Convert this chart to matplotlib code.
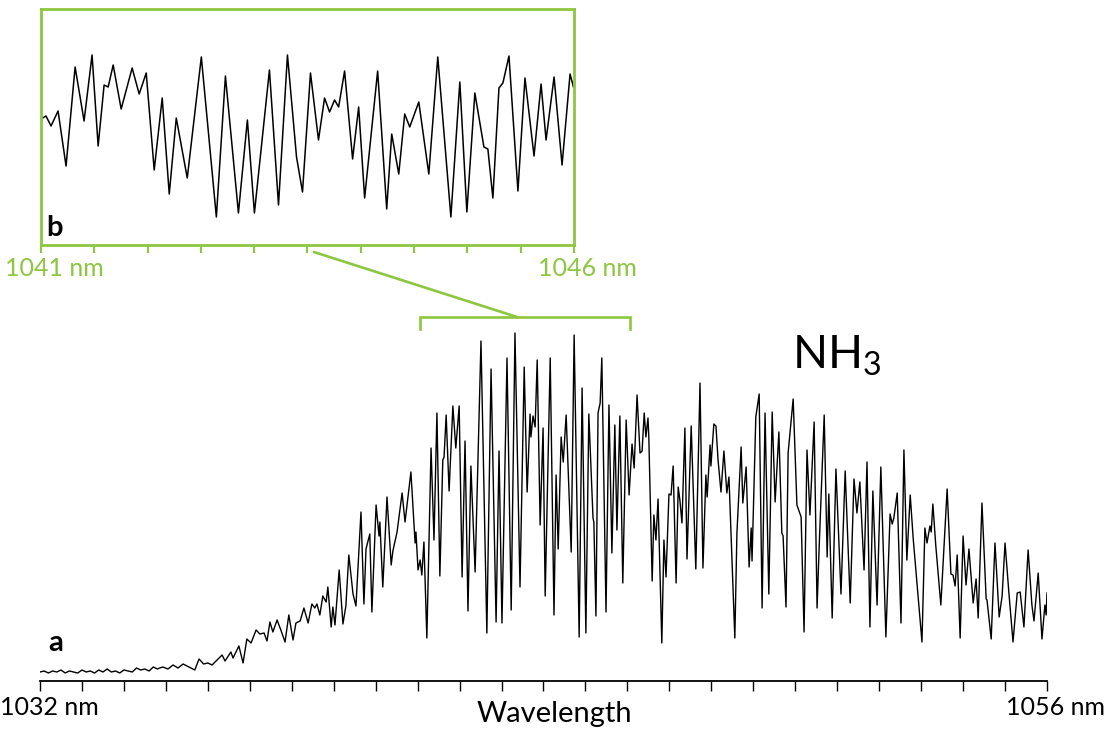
import matplotlib.pyplot as plt
from matplotlib.patches import ConnectionPatch
from matplotlib.transforms import ScaledTranslation

plt.rcParams['font.family'] = ['Lato', 'DejaVu Sans']
plt.rcParams['mathtext.default'] = 'regular'

GREEN = '#8DC63F'

# ---- main spectrum (a), 1032-1056 nm ----
main_nm = [
    1032.0, 1032.1, 1032.2, 1032.3, 1032.4, 1032.5, 1032.6, 1032.7, 1032.8, 1032.9,
    1033.0, 1033.1, 1033.2, 1033.3, 1033.4, 1033.5, 1033.6, 1033.7, 1033.8, 1033.9,
    1034.0, 1034.1, 1034.2, 1034.3, 1034.4, 1034.5, 1034.6, 1034.7, 1034.8, 1034.85,
    1034.93, 1035.05, 1035.17, 1035.29, 1035.41, 1035.55, 1035.69, 1035.79, 1035.90, 1036.00,
    1036.10, 1036.22, 1036.34, 1036.41, 1036.55, 1036.60, 1036.74, 1036.84, 1036.93, 1037.03,
    1037.15, 1037.24, 1037.34, 1037.41, 1037.48, 1037.55, 1037.65, 1037.74, 1037.84, 1037.93,
    1038.03, 1038.10, 1038.20, 1038.29, 1038.39, 1038.48, 1038.55, 1038.60, 1038.67, 1038.74,
    1038.82, 1038.86, 1038.94, 1038.98, 1039.03, 1039.13, 1039.22, 1039.29, 1039.36, 1039.46,
    1039.53, 1039.65, 1039.72, 1039.77, 1039.86, 1039.91, 1040.01, 1040.08, 1040.10, 1040.17,
    1040.27, 1040.37, 1040.41, 1040.51, 1040.63, 1040.70, 1040.84, 1040.94, 1040.96, 1041.01,
    1041.06, 1041.10, 1041.15, 1041.22, 1041.32, 1041.39, 1041.46, 1041.53, 1041.60, 1041.63,
    1041.68, 1041.75, 1041.84, 1041.91, 1041.99, 1042.06, 1042.13, 1042.20, 1042.27, 1042.37,
    1042.51, 1042.65, 1042.75, 1042.87, 1042.94, 1043.01, 1043.13, 1043.23, 1043.32, 1043.44,
    1043.54, 1043.61, 1043.68, 1043.70, 1043.75, 1043.80, 1043.85, 1043.92, 1043.99, 1044.04,
    1044.16, 1044.25, 1044.30, 1044.35, 1044.42, 1044.47, 1044.54, 1044.66, 1044.73, 1044.85,
    1044.92, 1045.01, 1045.08, 1045.18, 1045.20, 1045.25, 1045.30, 1045.35, 1045.39, 1045.49,
    1045.56, 1045.63, 1045.70, 1045.75, 1045.82, 1045.89, 1045.97, 1046.04, 1046.11, 1046.16,
    1046.23, 1046.30, 1046.35, 1046.40, 1046.44, 1046.49, 1046.51, 1046.59, 1046.63, 1046.68,
    1046.73, 1046.82, 1046.87, 1046.92, 1046.99, 1047.04, 1047.09, 1047.16, 1047.21, 1047.25,
    1047.30, 1047.37, 1047.42, 1047.52, 1047.56, 1047.63, 1047.73, 1047.80, 1047.87, 1047.90,
    1047.97, 1047.99, 1048.06, 1048.11, 1048.16, 1048.23, 1048.30, 1048.37, 1048.42, 1048.56,
    1048.61, 1048.71, 1048.75, 1048.83, 1048.90, 1048.95, 1048.97, 1049.06, 1049.14, 1049.21,
    1049.28, 1049.37, 1049.45, 1049.52, 1049.61, 1049.68, 1049.71, 1049.78, 1049.83, 1049.95,
    1050.04, 1050.14, 1050.21, 1050.28, 1050.35, 1050.45, 1050.52, 1050.57, 1050.69, 1050.76,
    1050.80, 1050.88, 1050.97, 1051.09, 1051.19, 1051.31, 1051.40, 1051.47, 1051.54, 1051.64,
    1051.71, 1051.78, 1051.85, 1051.95, 1052.04, 1052.16, 1052.26, 1052.31, 1052.35, 1052.43,
    1052.52, 1052.59, 1052.66, 1052.74, 1052.81, 1052.90, 1053.02, 1053.09, 1053.14, 1053.21,
    1053.24, 1053.28, 1053.35, 1053.47, 1053.62, 1053.71, 1053.76, 1053.81, 1053.86, 1053.93,
    1054.00, 1054.07, 1054.14, 1054.24, 1054.31, 1054.36, 1054.45, 1054.55, 1054.57, 1054.67,
    1054.76, 1054.86, 1054.93, 1055.00, 1055.09, 1055.19, 1055.29, 1055.36, 1055.45, 1055.55,
    1055.64, 1055.69, 1055.79, 1055.88, 1055.95, 1055.98, 1056.00,
]
main_int = [
    9, 10, 8, 10, 9, 11, 8, 10, 9, 8,
    11, 9, 10, 8, 11, 9, 12, 9, 10, 8,
    11, 10, 9, 13, 11, 12, 10, 14, 12, 13,
    14, 12, 16, 13, 17, 14, 11, 22, 17, 18,
    16, 21, 26, 20, 29, 23, 35, 18, 42, 38,
    51, 47, 48, 40, 59, 49, 61, 51, 39, 66,
    41, 58, 60, 73, 58, 77, 73, 77, 66, 85,
    79, 94, 54, 74, 56, 111, 57, 75, 126, 87,
    75, 169, 77, 132, 147, 69, 176, 145, 159, 94,
    184, 116, 130, 149, 188, 159, 209, 138, 149, 111,
    121, 106, 139, 43, 233, 141, 268, 105, 221, 224,
    266, 190, 275, 233, 275, 104, 240, 70, 215, 109,
    340, 48, 312, 59, 230, 58, 323, 71, 348, 94,
    314, 189, 267, 244, 265, 254, 321, 156, 253, 85,
    323, 66, 206, 132, 244, 219, 266, 129, 346, 44,
    293, 48, 267, 163, 159, 65, 268, 278, 323, 69,
    276, 128, 256, 151, 265, 98, 261, 186, 237, 213,
    286, 228, 230, 268, 244, 263, 244, 100, 166, 141,
    182, 38, 141, 104, 187, 186, 215, 98, 194, 181,
    158, 253, 122, 255, 204, 112, 298, 113, 206, 184,
    236, 215, 257, 255, 221, 189, 230, 188, 204, 43,
    148, 234, 178, 214, 114, 153, 120, 264, 287, 73,
    268, 87, 269, 179, 249, 148, 145, 74, 228, 282,
    176, 164, 49, 231, 166, 259, 73, 134, 266, 124,
    187, 63, 212, 87, 210, 78, 202, 168, 199, 111,
    219, 54, 190, 76, 214, 44, 167, 157, 163, 188,
    58, 231, 121, 186, 143, 98, 39, 153, 138, 155,
    149, 177, 135, 76, 192, 107, 106, 95, 126, 43,
    145, 96, 132, 78, 102, 63, 178, 82, 81, 42,
    138, 64, 85, 138, 89, 39, 88, 89, 54, 131,
    76, 60, 108, 42, 76, 66, 88,
]

# ---- zoomed spectrum (b), 1041-1046 nm ----
zoom_nm = [
    1041.016, 1041.047, 1041.094, 1041.160, 1041.235, 1041.320, 1041.404, 1041.479, 1041.536, 1041.592,
    1041.630, 1041.677, 1041.752, 1041.855, 1041.921, 1041.987, 1042.062, 1042.137, 1042.203, 1042.269,
    1042.372, 1042.504, 1042.645, 1042.730, 1042.852, 1042.936, 1043.002, 1043.143, 1043.228, 1043.312,
    1043.397, 1043.453, 1043.528, 1043.603, 1043.660, 1043.707, 1043.754, 1043.792, 1043.848, 1043.923,
    1043.980, 1044.036, 1044.158, 1044.243, 1044.290, 1044.356, 1044.412, 1044.459, 1044.544, 1044.638,
    1044.722, 1044.845, 1044.929, 1044.995, 1045.070, 1045.155, 1045.192, 1045.239, 1045.296, 1045.333,
    1045.390, 1045.474, 1045.540, 1045.625, 1045.691, 1045.738, 1045.813, 1045.888, 1045.963, 1045.995,
]
zoom_int = [
    125, 127, 117, 132, 77, 176, 122, 188, 97, 158,
    156, 178, 134, 175, 149, 170, 73, 145, 49, 125,
    65, 186, 26, 167, 30, 123, 30, 173, 38, 188,
    86, 51, 170, 103, 145, 131, 143, 136, 172, 84,
    136, 45, 172, 34, 109, 69, 129, 116, 141, 69,
    186, 26, 161, 31, 150, 96, 94, 45, 155, 160,
    187, 52, 165, 87, 159, 103, 166, 78, 169, 156,
]

main_ticks = list(range(1032, 1057))
main_ticklabels = ['1032 nm'] + [''] * 23 + ['1056 nm']
zoom_ticks = [1041 + 0.5 * i for i in range(11)]
zoom_ticklabels = ['1041 nm'] + [''] * 9 + ['1046 nm']

fig = plt.figure(figsize=(11.1, 7.34), dpi=100)

# main panel
ax = fig.add_axes([40 / 1110, 53 / 734, 1007 / 1110, 350 / 734])
ax.plot(main_nm, main_int, color='k', lw=1.0, solid_joinstyle='round')
ax.set_xlim(1032, 1056)
ax.set_ylim(0, 350)
for s in ['left', 'right', 'top']:
    ax.spines[s].set_visible(False)
ax.spines['bottom'].set_linewidth(1.3)
ax.set_yticks([])
ax.set_xticks(main_ticks)
ax.set_xticklabels(main_ticklabels, fontsize=18)
ax.tick_params(axis='x', direction='out', length=7, width=1.0, pad=4)
for lab in ax.get_xticklabels():
    lab.set_transform(lab.get_transform() + ScaledTranslation(9 / 100, 0, fig.dpi_scale_trans))

ax.text(1044.25, -0.118, 'Wavelength', transform=ax.get_xaxis_transform(),
        ha='center', va='baseline', fontsize=21)
ax.text(1032.2, 30, 'a', fontsize=21, fontweight='bold', ha='left', va='baseline')
ax.text(1049.92, 312, 'NH$_3$', fontsize=33, ha='left', va='baseline')

# bracket marking the zoomed range
ax.plot([1041.05, 1041.05, 1046.05, 1046.05], [352, 364, 364, 352],
        color=GREEN, lw=1.9, clip_on=False, solid_joinstyle='miter')

# inset panel
axin = fig.add_axes([41 / 1110, (734 - 245) / 734, 533 / 1110, 236 / 734])
axin.plot(zoom_nm, zoom_int, color='k', lw=1.1, solid_joinstyle='round')
axin.set_xlim(1041, 1046)
axin.set_ylim(-2, 234)
for s in axin.spines.values():
    s.set_color(GREEN)
    s.set_linewidth(2.0)
axin.set_yticks([])
axin.set_xticks(zoom_ticks)
axin.set_xticklabels(zoom_ticklabels, fontsize=18, color=GREEN)
axin.tick_params(axis='x', direction='out', length=6, width=1.5, color=GREEN, pad=3)
for lab in axin.get_xticklabels():
    lab.set_transform(lab.get_transform() + ScaledTranslation(13 / 100, 0, fig.dpi_scale_trans))
axin.text(1041.05, 2, 'b', fontsize=21, fontweight='bold', ha='left', va='bottom')

con = ConnectionPatch(xyA=(1043.56, -9), coordsA=axin.transData,
                      xyB=(1043.37, 364), coordsB=ax.transData,
                      color=GREEN, lw=1.9)
fig.add_artist(con)

fig.savefig('out.png', dpi=100)
